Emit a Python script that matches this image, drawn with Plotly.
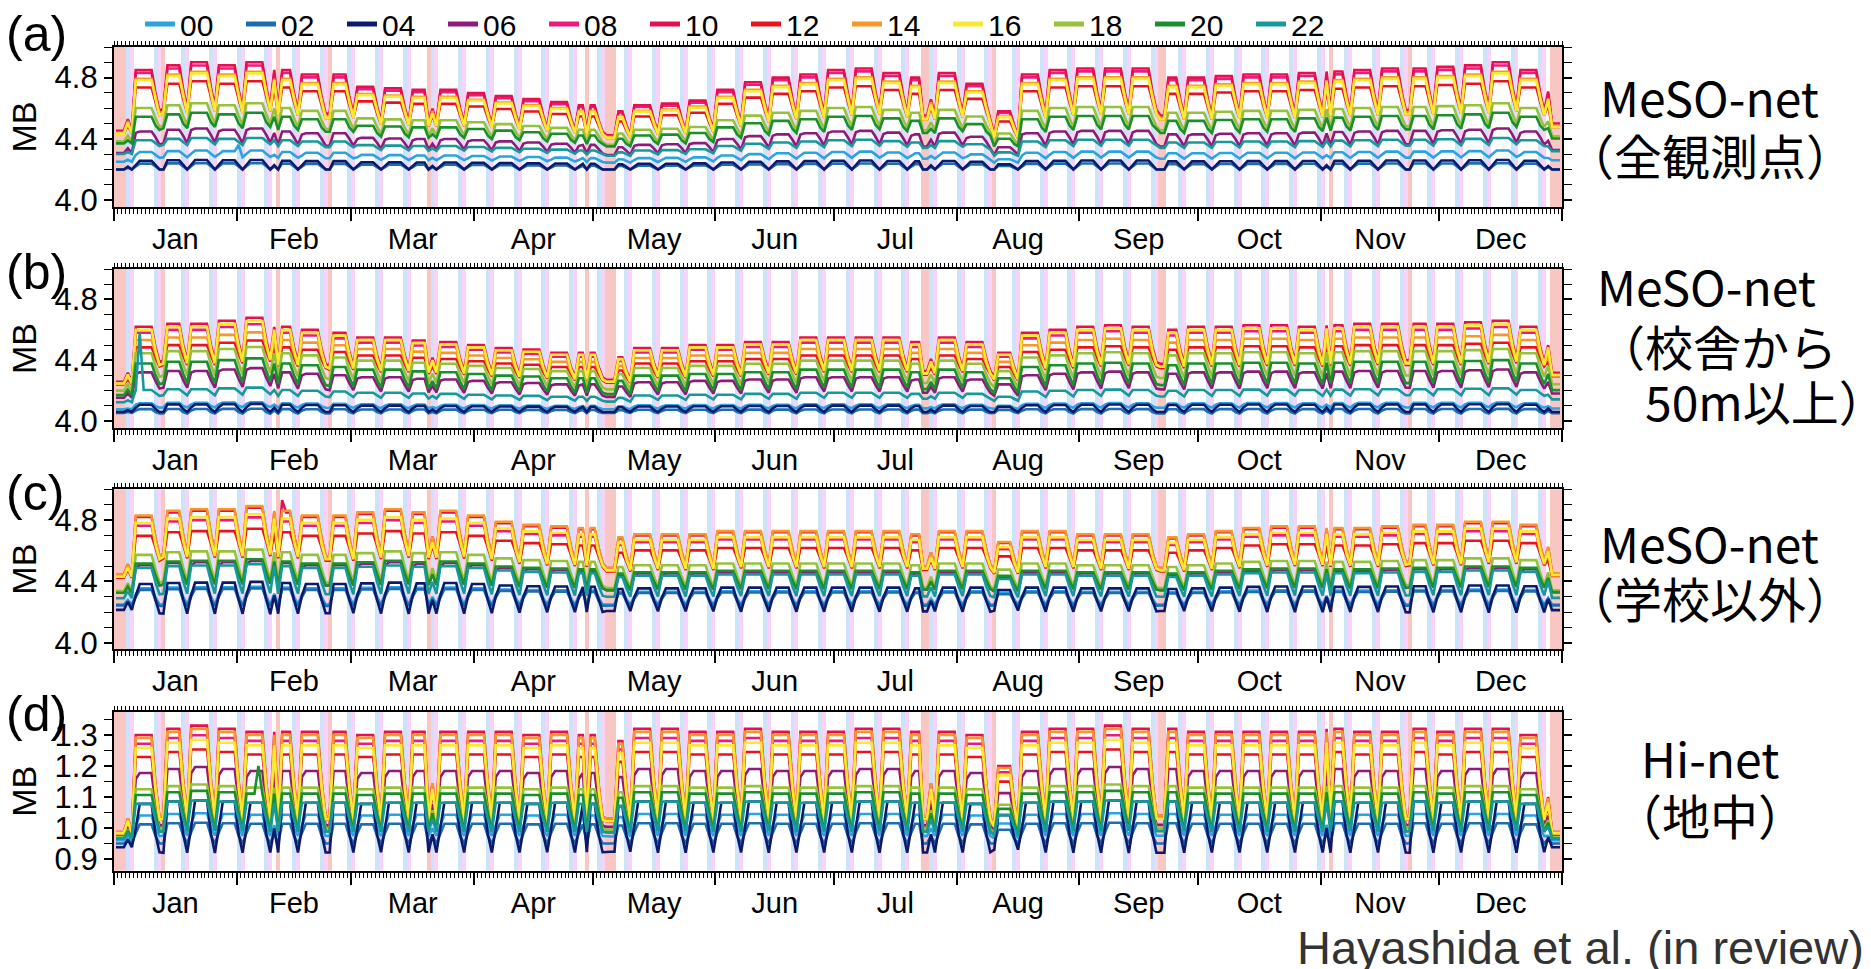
import numpy as np
import pandas as pd
import plotly.graph_objects as go

# ---------------- data ----------------
hours = ["00", "02", "04", "06", "08", "10", "12", "14", "16", "18", "20", "22"]
line_colors = ["#29a3e2", "#1c6db2", "#0b1a6c", "#8e1b7b", "#ef1a7e", "#e4104f",
               "#e8131c", "#f7962b", "#f9ea2f", "#96c23b", "#1a8f2b", "#17989a"]

holidays = ["2020-01-01", "2020-01-02", "2020-01-03", "2020-01-13", "2020-02-11",
            "2020-02-24", "2020-03-20", "2020-04-29", "2020-05-04", "2020-05-05",
            "2020-05-06", "2020-07-23", "2020-07-24", "2020-08-10", "2020-09-21",
            "2020-09-22", "2020-11-03", "2020-11-23", "2020-12-29", "2020-12-30",
            "2020-12-31"]

# per-hour levels (Tue-Fri / Monday / Saturday / Sunday+holiday) in a reference week
wd_a = [4.32, 4.24, 4.26, 4.46, 4.86, 4.88, 4.76, 4.82, 4.81, 4.62, 4.56, 4.40]
mo_a = [4.30, 4.22, 4.23, 4.45, 4.86, 4.88, 4.76, 4.82, 4.81, 4.62, 4.56, 4.40]
sa_a = [4.30, 4.22, 4.23, 4.42, 4.70, 4.72, 4.66, 4.70, 4.68, 4.55, 4.50, 4.38]
su_a = [4.28, 4.20, 4.20, 4.37, 4.58, 4.60, 4.57, 4.58, 4.57, 4.49, 4.47, 4.36]

wd_b = [4.12, 4.08, 4.11, 4.33, 4.60, 4.64, 4.50, 4.55, 4.62, 4.46, 4.39, 4.21]
mo_b = [4.11, 4.07, 4.09, 4.32, 4.60, 4.64, 4.50, 4.55, 4.62, 4.46, 4.39, 4.21]
sa_b = [4.10, 4.06, 4.08, 4.27, 4.48, 4.50, 4.43, 4.46, 4.48, 4.37, 4.31, 4.19]
su_b = [4.09, 4.05, 4.06, 4.22, 4.38, 4.40, 4.37, 4.38, 4.38, 4.30, 4.25, 4.17]

wd_c = [4.36, 4.35, 4.39, 4.52, 4.79, 4.85, 4.72, 4.86, 4.81, 4.59, 4.53, 4.50]
mo_c = [4.32, 4.30, 4.31, 4.50, 4.79, 4.85, 4.72, 4.86, 4.81, 4.59, 4.53, 4.50]
sa_c = [4.30, 4.28, 4.28, 4.45, 4.66, 4.70, 4.64, 4.70, 4.66, 4.49, 4.45, 4.40]
su_c = [4.25, 4.24, 4.19, 4.38, 4.56, 4.58, 4.55, 4.58, 4.56, 4.40, 4.38, 4.32]

wd_d = [1.045, 1.015, 1.085, 1.19, 1.29, 1.32, 1.245, 1.31, 1.275, 1.135, 1.115, 1.085]
mo_d = [1.01, 0.985, 1.00, 1.17, 1.29, 1.32, 1.245, 1.31, 1.275, 1.135, 1.115, 1.085]
sa_d = [1.00, 0.975, 0.98, 1.08, 1.13, 1.15, 1.12, 1.15, 1.13, 1.06, 1.05, 1.03]
su_d = [0.975, 0.95, 0.92, 1.01, 1.03, 1.04, 1.03, 1.04, 1.03, 1.00, 0.99, 0.99]

# weekly weekday peak of the 10h curve (weeks start on Monday, week 0 = Dec 30)
peak_a = [4.63, 4.85, 4.88, 4.90, 4.88, 4.90, 4.85, 4.82, 4.82, 4.74, 4.73, 4.72, 4.72,
          4.70, 4.68, 4.66, 4.64, 4.62, 4.58, 4.62, 4.63, 4.65, 4.72, 4.77, 4.80, 4.82,
          4.85, 4.86, 4.83, 4.80, 4.83, 4.76, 4.58, 4.82, 4.85, 4.86, 4.86, 4.86, 4.80,
          4.80, 4.81, 4.82, 4.82, 4.83, 4.84, 4.85, 4.86, 4.86, 4.87, 4.88, 4.90, 4.85,
          4.71]
peak_b = [4.40, 4.62, 4.64, 4.64, 4.66, 4.68, 4.62, 4.60, 4.58, 4.55, 4.55, 4.53, 4.52,
          4.50, 4.48, 4.47, 4.45, 4.45, 4.42, 4.48, 4.48, 4.50, 4.50, 4.52, 4.52, 4.55,
          4.55, 4.55, 4.55, 4.52, 4.55, 4.52, 4.45, 4.58, 4.60, 4.62, 4.63, 4.62, 4.60,
          4.62, 4.62, 4.63, 4.63, 4.62, 4.63, 4.64, 4.64, 4.64, 4.64, 4.65, 4.66, 4.62,
          4.50]
peak_c = [4.60, 4.82, 4.85, 4.86, 4.86, 4.88, 4.85, 4.82, 4.82, 4.84, 4.86, 4.84, 4.85,
          4.82, 4.78, 4.76, 4.75, 4.74, 4.68, 4.70, 4.70, 4.70, 4.72, 4.72, 4.72, 4.72,
          4.72, 4.72, 4.72, 4.70, 4.72, 4.72, 4.65, 4.72, 4.72, 4.70, 4.70, 4.70, 4.68,
          4.70, 4.72, 4.74, 4.75, 4.75, 4.74, 4.74, 4.75, 4.76, 4.76, 4.78, 4.78, 4.76,
          4.62]
peak_d = [1.10, 1.30, 1.32, 1.33, 1.32, 1.31, 1.31, 1.31, 1.31, 1.30, 1.31, 1.31, 1.31,
          1.31, 1.31, 1.30, 1.31, 1.30, 1.28, 1.32, 1.32, 1.31, 1.31, 1.32, 1.31, 1.31,
          1.31, 1.32, 1.32, 1.31, 1.31, 1.30, 1.20, 1.31, 1.32, 1.32, 1.33, 1.32, 1.32,
          1.31, 1.31, 1.31, 1.31, 1.31, 1.32, 1.31, 1.31, 1.32, 1.31, 1.32, 1.32, 1.30,
          1.10]
lows = [4.20, 4.06, 4.25, 0.95]

# isolated single-day spikes: (panel, hour index, date, value)
spikes = [(0, 0, "2020-02-01", 4.36), (1, 11, "2020-01-07", 4.58),
          (2, 5, "2020-02-12", 4.93), (3, 10, "2020-02-06", 1.20)]

panel_tags = ["(a)", "(b)", "(c)", "(d)"]
panel_names = [["MeSO-net", "（全観測点）"],
               ["MeSO-net", "（校舎から", "　50m以上）"],
               ["MeSO-net", "（学校以外）"],
               ["Hi-net", "（地中）"]]
y_ranges = [[3.955, 5.0], [3.955, 5.0], [3.96, 5.0], [0.862, 1.375]]
stripe_colors = {"sat": "#cce3f8", "sun": "#f8d2f8", "hol": "#f9c7c3"}

# ---------------- build figure ----------------
days = pd.date_range("2020-01-01", "2020-12-31", freq="D")
xs = days + pd.Timedelta(hours=12)
dow = np.asarray(days.dayofweek)
is_hol = np.asarray(days.isin(pd.to_datetime(holidays)))
week = (np.arange(len(days)) + 2) // 7
# 0 = Tue-Fri, 1 = Monday, 2 = Saturday, 3 = Sunday / holiday
dtype = np.where(is_hol | (dow == 6), 3, np.where(dow == 5, 2, np.where(dow == 0, 1, 0)))

profiles = [(wd_a, mo_a, sa_a, su_a, peak_a), (wd_b, mo_b, sa_b, su_b, peak_b),
            (wd_c, mo_c, sa_c, su_c, peak_c), (wd_d, mo_d, sa_d, su_d, peak_d)]

W, H = 1871, 969
ml, mr, mt, mb = 114, 309, 47, 98
PW, PH = W - ml - mr, H - mt - mb
def fy(py):
    return (H - mb - py) / PH
def fx(px):
    return (px - ml) / PW

panel_px = [(47, 207), (269, 428), (489.3, 649), (711.7, 870.7)]

fig = go.Figure()
DAY_MS = 86400000

for p in range(4):
    xa = "x" if p == 0 else f"x{p+1}"
    ya = "y" if p == 0 else f"y{p+1}"
    lo_r, hi_r = y_ranges[p]
    for key, mask in (("sat", (dow == 5) & ~is_hol), ("sun", (dow == 6) & ~is_hol), ("hol", is_hol)):
        xsel = xs[mask]
        fig.add_trace(go.Bar(x=xsel, y=[hi_r - lo_r] * len(xsel), base=[lo_r] * len(xsel),
                             width=DAY_MS, marker=dict(color=stripe_colors[key], line=dict(width=0)),
                             xaxis=xa, yaxis=ya, showlegend=False, hoverinfo="skip"))
    wd, mo, sa, su, pk = profiles[p]
    lo = lows[p]
    f = (np.asarray(pk)[week] - lo) / (wd[5] - lo)
    for h in range(12):
        lev = np.choose(dtype, [wd[h], mo[h], sa[h], su[h]])
        vals = lo + (lev - lo) * f
        for (sp, sh, sd, sv) in spikes:
            if sp == p and sh == h:
                vals[days.get_loc(pd.Timestamp(sd))] = sv
        fig.add_trace(go.Scatter(x=xs, y=vals, mode="lines",
                                 line=dict(color=line_colors[h], width=2.6),
                                 xaxis=xa, yaxis=ya, showlegend=False,
                                 legendgroup=hours[h], name=hours[h]))
    fig.add_trace(go.Scatter(x=[xs[0]], y=[None], xaxis=f"x{p+5}", yaxis=ya,
                             showlegend=False, hoverinfo="skip"))

for h in range(12):
    fig.add_trace(go.Scatter(x=[None], y=[None], mode="lines", name=hours[h],
                             line=dict(color=line_colors[h], width=5),
                             legendgroup=hours[h], xaxis="x", yaxis="y"))

font_main = "Liberation Sans, Arial, sans-serif"
font_jp = "Noto Sans CJK JP, sans-serif"

layout = dict(
    width=W, height=H, plot_bgcolor="white", paper_bgcolor="white",
    margin=dict(l=ml, r=mr, t=mt, b=mb, autoexpand=False),
    barmode="overlay", bargap=0,
    showlegend=True,
    legend=dict(orientation="h", x=fx(140), xanchor="left", y=fy(24), yanchor="middle",
                font=dict(family=font_main, size=30, color="black"),
                entrywidth=56, bgcolor="rgba(0,0,0,0)", tracegroupgap=0),
    font=dict(family=font_main, color="black"),
)

for p in range(4):
    top_px, bot_px = panel_px[p]
    dom = [max(0, fy(bot_px)), min(1, fy(top_px))]
    sx = "" if p == 0 else str(p + 1)
    ya = "y" if p == 0 else f"y{p+1}"
    layout[f"xaxis{sx}"] = dict(
        type="date", range=["2020-01-01", "2021-01-01"], anchor=ya,
        dtick="M1", tick0="2020-01-01", ticklabelmode="period", tickformat="%b",
        ticks="outside", ticklen=12, tickwidth=1.6, tickcolor="black",
        ticklabelstandoff=-7,
        minor=dict(dtick=DAY_MS, tick0="2020-01-01", ticks="outside", ticklen=5,
                   tickwidth=1, tickcolor="black", showgrid=False),
        showline=True, linecolor="black", linewidth=2.2, mirror=True,
        showgrid=False, zeroline=False,
        tickfont=dict(family=font_main, size=29, color="black"))
    layout[f"xaxis{p+5}"] = dict(
        type="date", range=["2020-01-01", "2021-01-01"], overlaying="x" if p == 0 else f"x{p+1}",
        anchor=ya, side="top", dtick=DAY_MS, tick0="2020-01-01",
        ticks="outside", ticklen=5, tickwidth=1, tickcolor="black",
        showticklabels=False, showline=False, showgrid=False, zeroline=False)
    if p < 3:
        ytk = dict(tick0=4.0, dtick=0.4, minor=dict(dtick=0.1, tick0=4.0, ticks="outside",
                                                     ticklen=6, tickwidth=1.4, tickcolor="black"))
    else:
        ytk = dict(tick0=0.9, dtick=0.1, minor=dict(dtick=0.05, tick0=0.9, ticks="outside",
                                                     ticklen=6, tickwidth=1.4, tickcolor="black"))
    layout[f"yaxis{sx}"] = dict(
        domain=dom, range=y_ranges[p], anchor="x" if p == 0 else f"x{p+1}",
        ticks="outside", ticklen=8, tickwidth=1.6, tickcolor="black",
        tickformat=".1f", showline=True, linecolor="black", linewidth=2.2,
        mirror="allticks", showgrid=False, zeroline=False,
        tickfont=dict(family=font_main, size=31, color="black"),
        title=dict(text="MB", font=dict(family=font_main, size=34, color="black"), standoff=8),
        **ytk)

fig.update_layout(**layout)

annos = []
tag_centers = [34, 272, 493, 714]
for p in range(4):
    annos.append(dict(text=panel_tags[p], xref="paper", yref="paper", x=fx(4), y=fy(tag_centers[p]),
                      xanchor="left", yanchor="middle", showarrow=False,
                      font=dict(family=font_main, size=50, color="black")))
name_lines_y = [[96, 153.5], [285, 345, 400], [542, 597], [757, 814]]
for p in range(4):
    for k, txt in enumerate(panel_names[p]):
        if p == 1:
            annos.append(dict(text=txt, xref="paper", yref="paper", x=fx(1595), y=fy(name_lines_y[p][k]),
                              xanchor="left", yanchor="middle", showarrow=False,
                              font=dict(family=font_jp, size=48, color="black")))
        else:
            annos.append(dict(text=txt, xref="paper", yref="paper", x=fx(1710), y=fy(name_lines_y[p][k]),
                              xanchor="center", yanchor="middle", showarrow=False,
                              font=dict(family=font_jp, size=48, color="black")))
annos.append(dict(text="Hayashida et al. (in review)", xref="paper", yref="paper",
                  x=fx(1866), y=fy(947), xanchor="right", yanchor="middle", showarrow=False,
                  font=dict(family=font_main, size=47, color="#333333")))
fig.update_layout(annotations=annos)

fig.write_html("out.html")
